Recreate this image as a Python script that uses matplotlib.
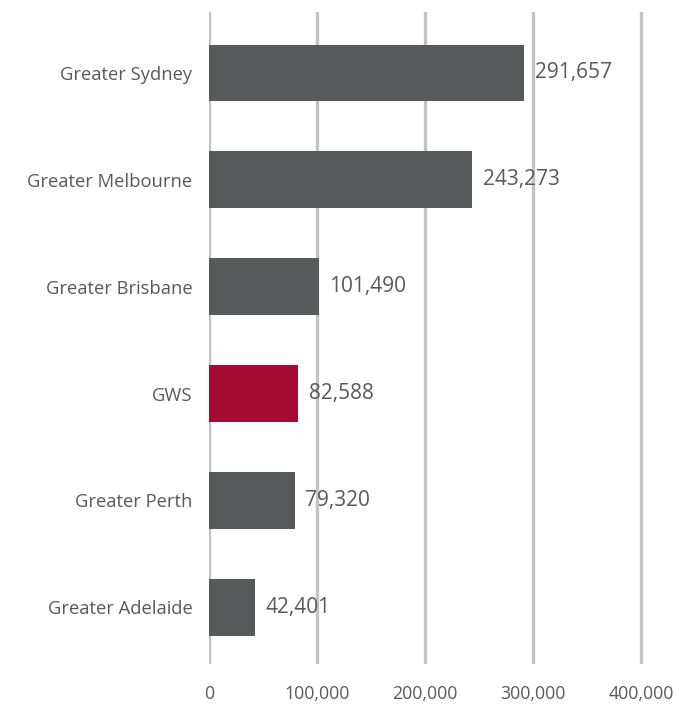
import matplotlib
matplotlib.use('Agg')
import matplotlib.pyplot as plt

# regions and counts
regions = ['Greater Sydney', 'Greater Melbourne', 'Greater Brisbane', 'GWS',
           'Greater Perth', 'Greater Adelaide']
values = [291657, 243273, 101490, 82588, 79320, 42401]
colors = ['#58595b', '#58595b', '#58595b', '#a50b32', '#58595b', '#58595b']
xticks = [0, 100000, 200000, 300000, 400000]

text_col = '#595959'
plt.rcParams['font.family'] = ['Open Sans', 'DejaVu Sans']

fig = plt.figure(figsize=(6.79, 7.08), dpi=100)
ax = fig.add_axes([209 / 679, 44 / 708, 451 / 679, 652 / 708])

ypos = list(range(len(regions)))
ax.barh(ypos, values, height=0.53, color=colors, zorder=3)
for y, v in zip(ypos, values):
    ax.text(v + 10000, y, '{:,}'.format(v), va='center', ha='left',
            fontsize=15, color=text_col, zorder=4)

ax.set_xlim(0, 400000 * 451 / 432)
ax.set_ylim(5.53, -0.57)
ax.set_yticks(ypos)
ax.set_yticklabels(regions, fontsize=13.2, color=text_col)
ax.set_xticks(xticks)
ax.set_xticklabels(['{:,}'.format(t) for t in xticks], fontsize=12.8, color=text_col)
ax.tick_params(axis='both', length=0)
ax.tick_params(axis='y', pad=12)
ax.tick_params(axis='x', pad=15)
ax.grid(axis='x', color='#c3c3c7', linewidth=2.4, zorder=0)
for s in ax.spines.values():
    s.set_visible(False)

fig.savefig('out.png', dpi=100)
